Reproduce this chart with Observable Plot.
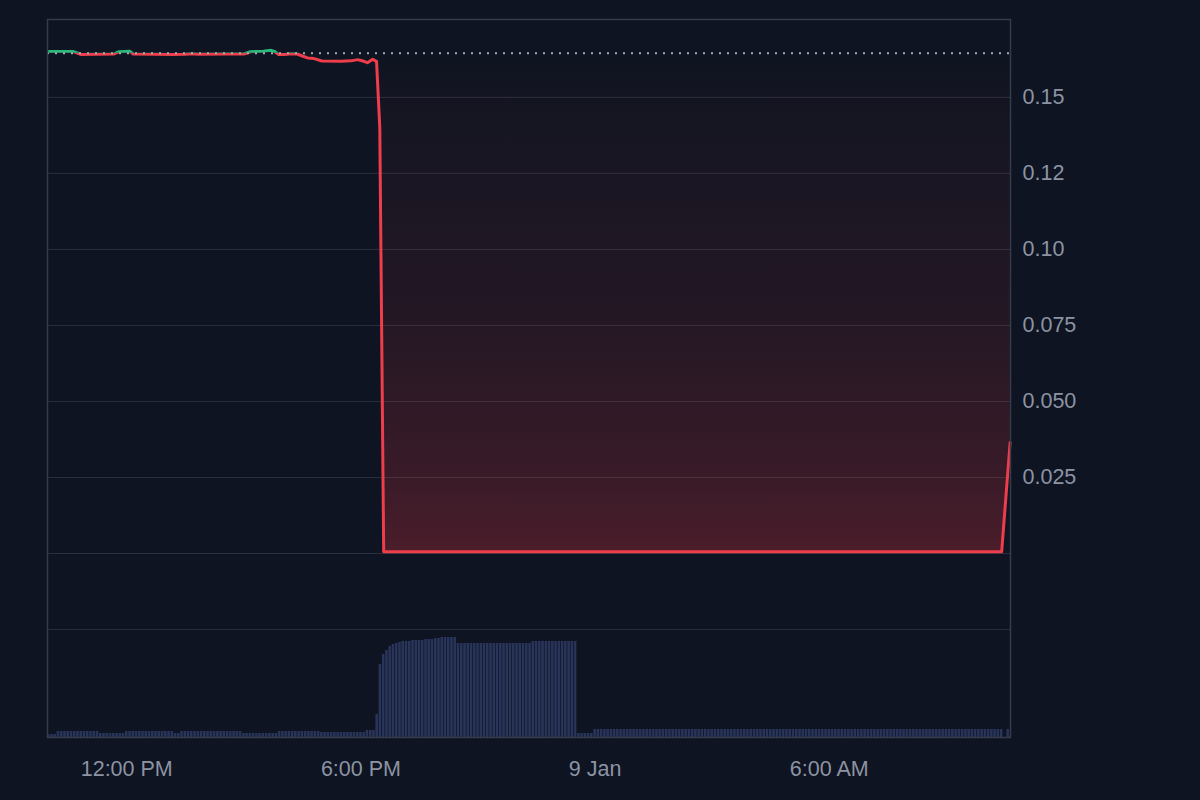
<!DOCTYPE html>
<html>
<head>
<meta charset="utf-8">
<script src="https://cdn.jsdelivr.net/npm/d3@7"></script>
<script src="https://cdn.jsdelivr.net/npm/@observablehq/plot@0.6"></script>
<style>
  html, body { margin: 0; padding: 0; background: #0e1421; }
  #chart { position: relative; width: 1200px; height: 800px; background: #0e1421; overflow: hidden; }
  #chart svg { position: absolute; left: 0; top: 0; }
</style>
</head>
<body>
<div id="chart"></div>
<script>
// ---------------- data ----------------
const BASELINE = 0.16447;

const priceTimes = [
  "2024-01-08T10:00", "2024-01-08T10:38", "2024-01-08T10:45", "2024-01-08T10:50",
  "2024-01-08T11:15", "2024-01-08T11:40", "2024-01-08T11:48", "2024-01-08T12:05",
  "2024-01-08T12:10", "2024-01-08T12:40", "2024-01-08T13:10", "2024-01-08T13:30",
  "2024-01-08T13:40", "2024-01-08T13:50", "2024-01-08T14:30", "2024-01-08T15:00",
  "2024-01-08T15:10", "2024-01-08T15:30", "2024-01-08T15:42", "2024-01-08T15:48",
  "2024-01-08T15:53", "2024-01-08T16:03", "2024-01-08T16:12", "2024-01-08T16:22",
  "2024-01-08T16:30", "2024-01-08T16:38", "2024-01-08T16:48", "2024-01-08T17:00",
  "2024-01-08T17:30", "2024-01-08T17:45", "2024-01-08T17:55", "2024-01-08T18:03",
  "2024-01-08T18:10", "2024-01-08T18:18", "2024-01-08T18:24", "2024-01-08T18:29",
  "2024-01-08T18:35", "2024-01-08T20:00", "2024-01-09T10:25", "2024-01-09T10:38"
];
const priceValues = [
  0.16505, 0.16505, 0.16450, 0.16410,
  0.16418, 0.16425, 0.16500, 0.16515,
  0.16425, 0.16418, 0.16412, 0.16418,
  0.16432, 0.16418, 0.16422, 0.16425,
  0.16500, 0.16520, 0.16545, 0.16500,
  0.16410, 0.16412, 0.16432, 0.16425,
  0.16360, 0.16296, 0.16275, 0.16195,
  0.16190, 0.16200, 0.16240, 0.16195,
  0.16140, 0.16250, 0.16185, 0.14000,
  0.00060, 0.00060, 0.00055, 0.03650
];

// 5-minute volume bars starting 2024-01-08 10:00
const volumeStart = "2024-01-08T10:00";
const volumeStepMinutes = 5;
const volumeValues = [
  3,3,3,
  6,6,6,6,6,6,6,6,6,6,6,6,6,
  4,4,4,4,4,4,4,4,
  6,6,6,6,6,6,6,6,6,6,6,6,6,6,6,
  4,4,
  6,6,6,6,6,6,6,6,6,6, 6,6,6,6,6,6,6,6,6,
  4,4,4,4,4,4,4,4,4,4,4,
  6,6,6,6,6,6,6,6,6,6,6,6,6,
  5,5,5,5,5,5,5,5,5,5,5,5,5,5,
  7,7,7,
  23,73,83,87,91,93,94,95,96,96,96,97,97,97,97,98,98,98,99,99,100,100,100,100,100,
  94,94,94,94,94,94,94,94,94,94, 94,94,94,94,94,94,94,94,94,94, 94,94,94,
  96,96,96,96,96,96,96,96,96,96, 96,96,96,96,
  4,4,4,4,4,
  8,8,8,8,8,8,8,8,8,8, 8,8,8,8,8,8,8,8,8,8, 8,8,8,8,8,8,8,8,8,8,
  8,8,8,8,8,8,8,8,8,8, 8,8,8,8,8,8,8,8,8,8, 8,8,8,8,8,8,8,8,8,8,
  8,8,8,8,8,8,8,8,8,8, 8,8,8,8,8,8,8,8,8,8, 8,8,8,8,8,8,8,8,8,8,
  8,8,8,8,8,8,8,8,8,8, 8,8,8,8,8,8,8,8,8,8, 8,8,8,8,8,8,8,8,8,8,
  8,8,8,8,8,8,
  0,8
];

const yGridValues = [-0.025, 0, 0.025, 0.05, 0.075, 0.1, 0.125, 0.15];
const yTickValues = [0.15, 0.125, 0.1, 0.075, 0.05, 0.025];
const yTickLabels = ["0.15", "0.12", "0.10", "0.075", "0.050", "0.025"];
const xTickTimes = ["2024-01-08T12:00", "2024-01-08T18:00", "2024-01-09T00:00", "2024-01-09T06:00"];
const xTickLabels = ["12:00 PM", "6:00 PM", "9 Jan", "6:00 AM"];

const xDomain = ["2024-01-08T09:58:10", "2024-01-09T10:38:35"];
const yDomain = [-0.0605, 0.1756];

// ---------------- style ----------------
const GRID = "#2a303d";
const FRAME = "#363c4a";
const LABEL = "#8c93a3";
const RED = "#ee3d4b";
const GREEN = "#28b97b";
const DOT = "#a4a8b2";
const VOL = "#29345a";
const FONT = "'Liberation Sans', Arial, sans-serif";

// ---------------- build ----------------
const price = priceTimes.map((t, i) => ({ t: new Date(t), v: priceValues[i] }));
const vStart = new Date(volumeStart).getTime();
const volume = volumeValues.map((v, i) => ({ t: new Date(vStart + i * volumeStepMinutes * 60000), v }));
const half = volumeStepMinutes * 60000 / 2;
const yLabelMap = new Map(yTickValues.map((d, i) => [d, yTickLabels[i]]));
const xTicks = xTickTimes.map(s => new Date(s));
const xLabelMap = new Map(xTicks.map((d, i) => [+d, xTickLabels[i]]));
const xDom = xDomain.map(s => new Date(s));

const dims = { width: 1200, height: 800, marginLeft: 47, marginRight: 190, marginTop: 19, marginBottom: 63 };
const baseStyle = { background: "transparent", color: LABEL, fontFamily: FONT, fontSize: "21.5px", overflow: "visible" };

const volPlot = Plot.plot({
  ...dims,
  style: baseStyle,
  x: { domain: xDom, axis: null },
  y: { domain: [0, 718], axis: null },
  marks: [
    Plot.rect(volume, {
      x1: d => new Date(+d.t - half), x2: d => new Date(+d.t + half),
      y1: 0, y2: "v", fill: VOL, insetLeft: 0.35, insetRight: 0.35, clip: true
    })
  ]
});

const mainPlot = Plot.plot({
  ...dims,
  style: baseStyle,
  x: { domain: xDom },
  y: { domain: yDomain },
  marks: [
    Plot.gridY(yGridValues, { stroke: GRID, strokeOpacity: 1, strokeWidth: 1 }),
    Plot.areaY(price, { x: "t", y1: BASELINE, y2: d => Math.min(d.v, BASELINE), fill: "url(#redFill)" }),
    Plot.areaY(price, { x: "t", y1: BASELINE, y2: d => Math.max(d.v, BASELINE), fill: "url(#greenFill)" }),
    Plot.line(price, { x: "t", y: "v", stroke: RED, strokeWidth: 3, strokeLinejoin: "round" }),
    Plot.line(price, { x: "t", y: "v", stroke: GREEN, strokeWidth: 3, strokeLinejoin: "round" }),
    Plot.ruleY([BASELINE], { stroke: DOT, strokeWidth: 2, strokeDasharray: "2,6" }),
    Plot.frame({ stroke: FRAME, strokeWidth: 1.5 }),
    Plot.axisY(yTickValues, { anchor: "right", tickSize: 0, tickPadding: 12, tickFormat: d => yLabelMap.get(d), fontSize: 21.5, label: null }),
    Plot.axisX(xTicks, { anchor: "bottom", tickSize: 0, tickPadding: 23, tickFormat: d => xLabelMap.get(+d), fontSize: 21.5, label: null })
  ]
});

// defs: gradients and baseline clip paths, positioned through the y scale
const ys = mainPlot.scale("y");
const yBase = ys.apply(BASELINE);
const yZero = ys.apply(0);
const yTop = ys.apply(yDomain[1]);
const NS = "http://www.w3.org/2000/svg";
const defs = document.createElementNS(NS, "defs");
function grad(id, y1, y2, stops) {
  const g = document.createElementNS(NS, "linearGradient");
  g.setAttribute("id", id);
  g.setAttribute("gradientUnits", "userSpaceOnUse");
  g.setAttribute("x1", 0); g.setAttribute("x2", 0);
  g.setAttribute("y1", y1); g.setAttribute("y2", y2);
  for (const [o, c, a] of stops) {
    const s = document.createElementNS(NS, "stop");
    s.setAttribute("offset", o);
    s.setAttribute("stop-color", c);
    s.setAttribute("stop-opacity", a);
    g.appendChild(s);
  }
  defs.appendChild(g);
}
grad("redFill", yBase, yZero, [[0, "#f23645", 0.0], [0.1, "#f23645", 0.03], [0.5, "#f23645", 0.09], [0.85, "#f23645", 0.19], [1, "#f23645", 0.27]]);
grad("greenFill", yBase, yTop, [[0, "#28b97b", 0.0], [1, "#28b97b", 0.28]]);
function clipRect(id, y, h) {
  const c = document.createElementNS(NS, "clipPath");
  c.setAttribute("id", id);
  const r = document.createElementNS(NS, "rect");
  r.setAttribute("x", -10); r.setAttribute("y", y);
  r.setAttribute("width", 1220); r.setAttribute("height", h);
  c.appendChild(r);
  defs.appendChild(c);
}
// line groups are translated by (0.5, 0.5): compensate in clip rects
clipRect("clipAbove", -10, yBase - 0.5 + 10);
clipRect("clipBelow", yBase - 0.5, 820 - yBase);
mainPlot.insertBefore(defs, mainPlot.firstChild);
const gBelow = mainPlot.querySelector(`g[stroke="${RED}"]`);
const gAbove = mainPlot.querySelector(`g[stroke="${GREEN}"]`);
if (gBelow) gBelow.setAttribute("clip-path", "url(#clipBelow)");
if (gAbove) gAbove.setAttribute("clip-path", "url(#clipAbove)");

const chart = document.getElementById("chart");
chart.appendChild(volPlot);
chart.appendChild(mainPlot);
</script>
</body>
</html>
